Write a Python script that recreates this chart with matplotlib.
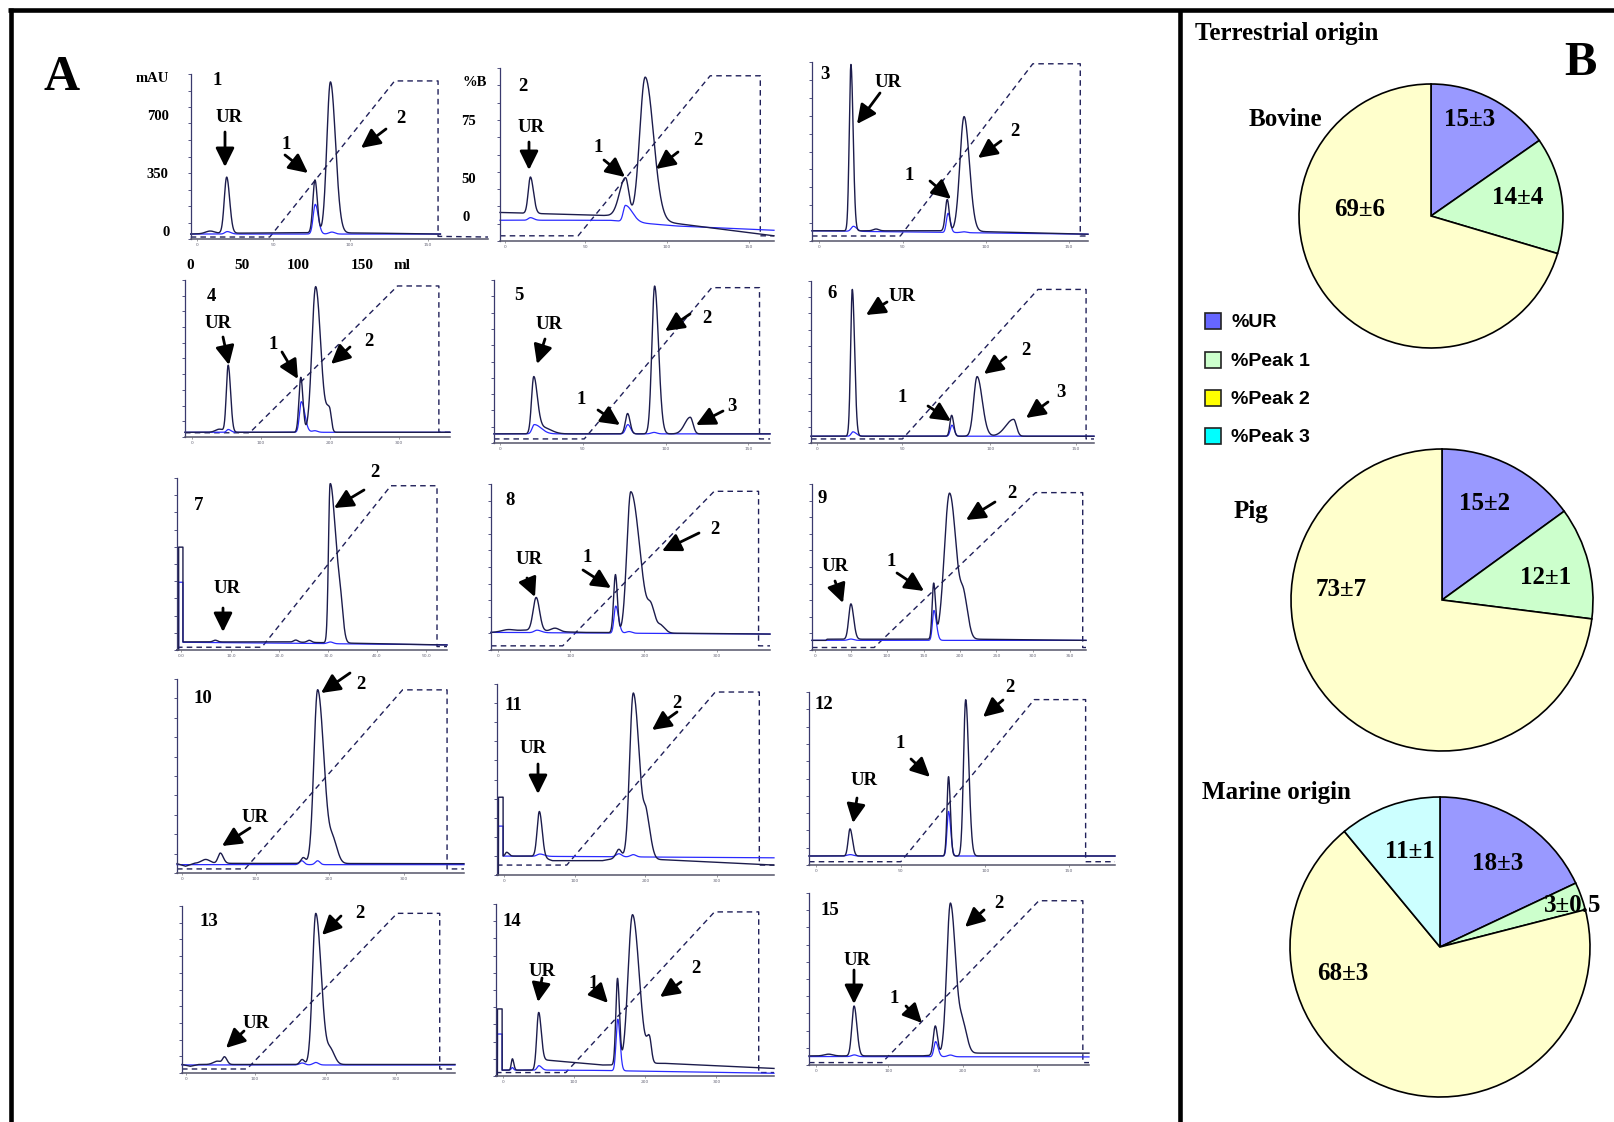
import numpy as np
import matplotlib.pyplot as plt
from matplotlib.patches import Rectangle

W, H = 1614, 1122

# ---------------- data: chromatograms (x = % of run, y = % of full scale) ----------------
panel_ids = ['1', '2', '3', '4', '5', '6', '7', '8', '9', '10', '11', '12', '13', '14', '15']

# baseline of the 214 nm trace (dark), as (x, y) points
dark_base = [
    [(0, 3.0), (10, 3.5), (40, 3.8), (60, 3.6), (84, 3.0)],
    [(0, 16.5), (38.9, 14.7), (60, 11.0), (100, 3.0)],
    [(0, 5.7), (50, 5.7), (100, 3.8)],
    [(0, 3.0), (100, 3.0)],
    [(0, 5.6), (100, 5.6)],
    [(0, 4.2), (100, 4.2)],
    [(0, 0), (0.6, 0), (0.61, 59.8), (2.2, 59.8), (2.21, 4.7), (40, 4.7), (100, 2.9)],
    [(0, 10.6), (12, 12.0), (25, 11.0), (33, 10.6), (100, 9.6)],
    [(0, 5.8), (5, 5.8), (5.5, 6.5), (60, 6.5), (100, 5.8)],
    [(0, 4.8), (3, 3.5), (6, 5.0), (100, 4.8)],
    [(0, 0), (0.5, 0), (0.51, 40.7), (2.2, 40.7), (2.21, 9.9), (15, 9.9), (20, 7.5),
     (38, 7.5), (42, 8.5), (60, 8.0), (100, 5.2)],
    [(0, 5.2), (100, 5.2)],
    [(0, 5.1), (3, 4.0), (6, 5.1), (100, 5.1)],
    [(0, 0), (0.5, 0), (0.51, 39.0), (2.2, 39.0), (2.21, 3.4), (14.5, 3.4), (16.5, 9.5),
     (20, 9.0), (38, 6.4), (42, 6.4), (60, 7.4), (100, 4.4)],
    [(0, 5.3), (40, 5.3), (60, 6.9), (100, 6.9)],
]

# peaks of the dark trace: (centre, height, left width, right width)
dark_peaks = [
    [(6.5, 1.5, 1.5, 1.5), (12.1, 34, 0.8, 1.0), (41.8, 32, 0.7, 0.8), (47.0, 91.5, 1.2, 1.7)],
    [(11.1, 21, 0.8, 1.1), (45.8, 23, 2.2, 1.2), (53.0, 82.5, 2.0, 3.0)],
    [(14.1, 93, 0.6, 0.8), (23.2, 1.0, 1, 1), (49.0, 17.5, 0.7, 0.7), (55.1, 64, 1.5, 1.9)],
    [(13, 2, 1.5, 1.5), (16.3, 42.6, 0.7, 0.9), (43.7, 35, 0.7, 0.8), (49.3, 92.8, 1.4, 1.9),
     (54.5, 14, 1.2, 0.7)],
    [(14.4, 34.7, 0.8, 1.3), (17.5, 4, 1.5, 3.0), (48.4, 12.5, 0.8, 0.9), (58.2, 90.7, 1.0, 1.4),
     (71.1, 10.2, 2.0, 1.0)],
    [(14.6, 90.6, 0.6, 0.8), (49.7, 12.9, 0.6, 0.7), (58.7, 36.8, 1.2, 1.8), (71.6, 10.4, 2.8, 1.0)],
    [(14.2, 1.0, 0.8, 0.8), (44, 1.2, 0.8, 0.8), (49, 1.2, 0.8, 0.8), (56.7, 90.5, 0.6, 1.8),
     (60.3, 24, 1.6, 1.1)],
    [(6, 1, 2, 2), (16.2, 20, 1.1, 1.2), (23, 2, 1.5, 1.5), (44.6, 35, 0.65, 0.7),
     (50.1, 85, 1.4, 3.2), (57.5, 12, 1.2, 1.5), (61, 4, 1, 1.5)],
    [(14.2, 21.3, 0.8, 1.0), (44.4, 33, 0.55, 0.65), (50.2, 88, 1.9, 2.5), (55.5, 20, 1.2, 1.5)],
    [(10, 2, 1.5, 1.5), (15.1, 5.3, 0.8, 1.0), (44, 3, 0.8, 0.8), (49.0, 89.6, 1.3, 2.2),
     (54.5, 10, 1.2, 1.5)],
    [(3.5, 2, 0.5, 0.8), (15.3, 23.5, 0.8, 1.0), (44, 5, 1.0, 1.0), (49.2, 87, 1.3, 2.2),
     (54, 18, 1.0, 1.5)],
    [(13.4, 15.7, 0.6, 0.8), (45.6, 45.9, 0.5, 0.6), (51.2, 90.4, 0.7, 1.0)],
    [(13, 2, 1.5, 1.5), (15.6, 4.2, 0.7, 0.9), (44, 3, 0.8, 0.8), (49.0, 90.5, 1.2, 2.0),
     (54.5, 8, 1.2, 1.5)],
    [(5.9, 6.6, 0.4, 0.5), (15.3, 31, 0.7, 0.9), (43.7, 50, 0.6, 0.7), (49.1, 87, 1.6, 2.4),
     (55.2, 13, 0.9, 0.7)],
    [(7, 1, 1.5, 1.5), (16.1, 29, 0.8, 1.0), (45.1, 17, 0.7, 0.8), (50.5, 88, 1.3, 1.9),
     (55, 15, 1.2, 1.5)],
]

# baseline of the 280 nm trace (blue)
blue_base = [
    [(0, 3.0), (84, 3.0)],
    [(0, 12.0), (40, 12.0), (64, 8.7), (100, 6.2)],
    [(0, 5.7), (100, 3.8)],
    [(0, 3.0), (100, 3.0)],
    [(0, 5.6), (100, 5.6)],
    [(0, 4.2), (100, 4.2)],
    [(0, 0), (0.6, 0), (0.61, 39.4), (2.2, 39.4), (2.21, 4.5), (100, 3.0)],
    [(0, 10.6), (100, 9.6)],
    [(0, 5.8), (100, 5.8)],
    [(0, 4.3), (100, 4.3)],
    [(0, 0), (0.5, 0), (0.51, 25.6), (2.2, 25.6), (2.21, 9.9), (100, 9.0)],
    [(0, 5.2), (100, 5.2)],
    [(0, 4.8), (100, 4.8)],
    [(0, 0), (0.5, 0), (0.51, 24.4), (2.2, 24.4), (2.21, 3.4), (30, 3.4), (100, 1.6)],
    [(0, 4.9), (100, 4.7)],
]

blue_peaks = [
    [(12.3, 1.5, 0.8, 1.2), (41.9, 18, 0.7, 1.0), (47.5, 1.2, 1, 1)],
    [(11.1, 1.5, 0.8, 1.2), (45.8, 9.4, 0.8, 2.5)],
    [(15, 2.8, 0.8, 1.2), (49.3, 10.7, 0.6, 0.8), (55, 0.5, 1, 1)],
    [(16.3, 1.8, 0.6, 1.0), (43.9, 19.5, 0.7, 1.3), (49, 1.0, 1, 1)],
    [(14.6, 5.7, 0.8, 2.5), (48.5, 5.7, 0.8, 1.0), (58, 0.9, 1, 1)],
    [(14.8, 2.7, 0.6, 1.2), (49.8, 6.8, 0.6, 0.8)],
    [(56.8, 1.0, 1, 1)],
    [(16.5, 1.5, 1, 1.5), (44.7, 16.3, 0.6, 1.0), (49.5, 1, 1, 1)],
    [(14.2, 0.8, 1, 1), (44.5, 18, 0.55, 0.9)],
    [(43.5, 2, 0.8, 0.8), (49, 2, 0.8, 0.8)],
    [(15.5, 1.2, 1, 1.5), (44, 1.6, 1, 1), (49.2, 1.2, 1, 1)],
    [(13.5, 0.8, 1, 1), (45.6, 25.8, 0.5, 0.7)],
    [(44, 1.2, 1, 1), (49, 1.5, 1, 1)],
    [(5.9, 1.5, 0.4, 0.4), (15.4, 2.6, 0.6, 1.0), (43.8, 30, 0.6, 0.8)],
    [(16.2, 1, 1, 1), (45.2, 8.8, 0.6, 0.9), (50.5, 1, 1, 1)],
]

# %B gradient programme (dashed)
gradient = [
    [(0, 1.2), (26.6, 1.2), (68.6, 95.8), (83.2, 95.8), (83.2, 1.6), (100, 1.2)],
    [(0, 3), (28.5, 3), (76.7, 95.5), (95, 95.5), (95, 3), (100, 3)],
    [(0, 2.8), (32, 2.8), (80, 99), (97.2, 99), (97.2, 2.8), (100, 2.8)],
    [(0, 2.7), (24.4, 2.7), (80.2, 96.2), (95.8, 96.2), (95.8, 3), (100, 3)],
    [(0, 2.5), (32.7, 2.5), (78.9, 95.3), (96.2, 95.3), (96.2, 2.5), (100, 2.5)],
    [(0, 2.5), (32.3, 2.5), (80.2, 94.8), (97.2, 94.8), (97.2, 2.5), (100, 2.5)],
    [(0, 1.6), (31.4, 1.6), (79.2, 95.5), (96.3, 95.5), (96.3, 2), (100, 2)],
    [(0, 2.5), (25.7, 2.5), (80, 95.6), (95.9, 95.6), (95.9, 2.5), (100, 2.5)],
    [(0, 1.5), (22.7, 1.5), (81.6, 94.8), (98.8, 94.8), (98.8, 1.5), (100, 1.5)],
    [(0, 2.1), (23.7, 2.1), (78.6, 94.4), (94.1, 94.4), (94.1, 2.1), (100, 2.1)],
    [(0, 5.2), (25.2, 5.2), (78.8, 95.8), (94.7, 95.8), (94.7, 5.2), (100, 5.2)],
    [(0, 1.9), (30, 1.9), (73.6, 95.6), (90.4, 95.6), (90.4, 1.9), (100, 1.9)],
    [(0, 2.4), (23.8, 2.4), (78.8, 95.6), (94.4, 95.6), (94.4, 2.4), (100, 2.4)],
    [(0, 2), (25.1, 2), (78.6, 95.4), (94.5, 95.4), (94.5, 2), (100, 2)],
    [(0, 1.4), (26.1, 1.4), (82.1, 95.5), (97.8, 95.5), (97.8, 1.4), (100, 1.4)],
]

x_ticks = [
    [2, 27.8, 53.5, 79.8], [1.8, 31.2, 60.8, 90.8], [2.6, 32.8, 62.9, 93.1],
    [2.8, 28.6, 54.7, 80.7], [2.2, 32.2, 62.2, 92.2], [2.2, 32.3, 63.4, 93.5],
    [1.5, 20, 37.9, 56, 74.1, 92.4], [2.5, 28.4, 55, 81.1],
    [1.2, 14.2, 27.3, 40.7, 54, 67.3, 80.6, 94], [1.8, 27.5, 53, 79],
    [2.6, 28, 53.6, 79.4], [2.4, 30, 57.6, 85], [1.6, 26.7, 52.8, 78.4],
    [2.6, 28, 53.5, 79.3], [2.6, 28.3, 54.9, 81.5],
]
ml_labels = ['0', '50', '100', '150']
run_labels = ['0', '100', '200', '300']
x_tick_labels = [ml_labels, ml_labels, ml_labels, run_labels, ml_labels, ml_labels,
                 ['0.0', '10.0', '20.0', '30.0', '40.0', '50.0'], run_labels,
                 ['0', '50', '100', '150', '200', '250', '300', '350'], run_labels,
                 run_labels, ml_labels, run_labels, run_labels, run_labels]

# ---------------- data: pie charts (%) ----------------
pie_names = ['Bovine', 'Pig', 'Marine']
bovine_vals = [15, 14, 69]
pig_vals = [15, 12, 73]
marine_vals = [18, 3, 68, 11]
bovine_txt = ['15±3', '14±4', '69±6']
pig_txt = ['15±2', '12±1', '73±7']
marine_txt = ['18±3', '3±0.5', '68±3', '11±1']
legend_names = ['%UR', '%Peak 1', '%Peak 2', '%Peak 3']

# ---------------- layout (pixels, y down) ----------------
panel_box = [
    (190.7, 488, 74, 239), (500, 774, 68, 241), (812, 1088, 62, 241),
    (185, 450, 280, 437), (494, 770, 280, 443), (811, 1094, 281, 443),
    (177, 447, 478, 650), (491, 770, 484, 650), (812, 1086, 484, 650),
    (177, 464, 679, 873), (497, 774, 684, 875), (809, 1115, 692, 865),
    (182, 455, 906, 1073), (496, 774, 904, 1076), (809, 1089, 893, 1065),
]
num_pos = [(217, 80), (523, 86), (825, 74), (211, 296), (519, 295), (832, 293),
           (199, 505), (510, 500), (822, 498), (203, 698), (513, 705), (824, 704),
           (209, 921), (512, 921), (830, 910)]
# peak labels: (text, x, y, tail x, tail y, tip x, tip y)
peak_marks = [
    ('UR', 229, 117, 225, 132, 225, 167), ('1', 286, 144, 285, 155, 308, 173),
    ('2', 401, 118, 386, 129, 361, 148),
    ('UR', 531, 127, 529, 142, 529, 170), ('1', 598, 147, 604, 160, 625, 177),
    ('2', 698, 140, 678, 152, 656, 169),
    ('UR', 888, 82, 880, 93, 857, 124), ('1', 909, 175, 930, 181, 951, 199),
    ('2', 1015, 131, 1001, 141, 978, 158),
    ('UR', 218, 323, 223, 337, 229, 365), ('1', 273, 344, 282, 352, 298, 379),
    ('2', 369, 341, 350, 347, 331, 364),
    ('UR', 549, 324, 545, 339, 537, 364), ('1', 581, 399, 598, 410, 620, 425),
    ('2', 707, 318, 690, 314, 665, 331), ('3', 732, 406, 723, 411, 696, 425),
    ('UR', 902, 296, 887, 302, 866, 315), ('1', 902, 397, 928, 406, 951, 421),
    ('2', 1026, 350, 1006, 357, 984, 374), ('3', 1061, 392, 1048, 402, 1026, 418),
    ('UR', 227, 588, 223, 608, 223, 632), ('2', 375, 472, 364, 490, 334, 508),
    ('UR', 529, 559, 527, 578, 535, 597), ('1', 587, 557, 583, 570, 611, 588),
    ('2', 715, 529, 699, 533, 662, 551),
    ('UR', 835, 566, 835, 581, 843, 603), ('1', 891, 561, 897, 573, 924, 591),
    ('2', 1012, 493, 995, 502, 966, 520),
    ('UR', 255, 817, 250, 828, 222, 846), ('2', 361, 684, 350, 673, 321, 693),
    ('UR', 533, 748, 538, 764, 538, 794), ('2', 677, 703, 677, 712, 652, 730),
    ('UR', 864, 780, 857, 798, 853, 823), ('1', 900, 743, 911, 759, 930, 777),
    ('2', 1010, 687, 1003, 700, 983, 717),
    ('UR', 256, 1024, 244, 1031, 226, 1048), ('2', 360, 913, 341, 916, 322, 935),
    ('UR', 542, 971, 542, 978, 538, 1002), ('1', 593, 983, 594, 988, 608, 1003),
    ('2', 696, 968, 681, 982, 660, 997),
    ('UR', 857, 960, 854, 970, 854, 1004), ('1', 894, 998, 906, 1006, 922, 1023),
    ('2', 999, 903, 984, 910, 965, 927),
]

DARK = '#1c1c4c'
BLUE = '#2a2aff'
NAVY = '#20205a'
SERIF = ['Liberation Serif', 'DejaVu Serif']
SANS = ['Liberation Sans', 'DejaVu Sans']


def trace(base, peaks):
    bx = np.array([p[0] for p in base], float)
    by = np.array([p[1] for p in base], float)
    x = np.union1d(np.linspace(bx[0], bx[-1], 1500), bx)
    y = np.interp(x, bx, by)
    for c, h, sl, sr in peaks:
        s = np.where(x < c, sl, sr)
        y = y + h * np.exp(-0.5 * ((x - c) / s) ** 2)
    return x, y


fig = plt.figure(figsize=(W / 100, H / 100), dpi=100)
fig.patch.set_facecolor('white')

for i in range(15):
    l, r, t, b = panel_box[i]
    ax = fig.add_axes([l / W, 1 - b / H, (r - l) / W, (b - t) / H])
    ax.set_xlim(0, 100)
    ax.set_ylim(0, 100)
    ax.patch.set_visible(False)
    ax.spines['top'].set_visible(False)
    ax.spines['right'].set_visible(False)
    ax.spines['left'].set_color('#3a3a6e')
    ax.spines['left'].set_linewidth(0.9)
    ax.spines['bottom'].set_color('#55556a')
    ax.spines['bottom'].set_linewidth(1.1)
    ax.set_yticks(np.linspace(0, 100, 11))
    ax.set_yticklabels([])
    ax.set_xticks(x_ticks[i])
    ax.set_xticklabels(x_tick_labels[i])
    ax.tick_params(axis='y', length=2.2, width=0.6, color='#3a3a6e')
    ax.tick_params(axis='x', length=1.5, width=0.5, color='#777777', labelsize=3.2,
                   labelcolor='#666677', pad=1.5)

    gx = [p[0] for p in gradient[i]]
    gy = [p[1] for p in gradient[i]]
    ax.plot(gx, gy, color=NAVY, lw=1.0, dashes=(4, 3), clip_on=False)
    x, y = trace(blue_base[i], blue_peaks[i])
    ax.plot(x, y, color=BLUE, lw=0.9, clip_on=False)
    x, y = trace(dark_base[i], dark_peaks[i])
    ax.plot(x, y, color=DARK, lw=1.0, clip_on=False)

# overlay in pixel coordinates for frame, labels and arrows
ov = fig.add_axes([0, 0, 1, 1], zorder=10)
ov.set_xlim(0, W)
ov.set_ylim(H, 0)
ov.axis('off')
ov.patch.set_visible(False)

ov.plot([8, W], [10, 10], color='k', lw=3.3, solid_capstyle='butt')
ov.plot([10.5, 10.5], [8, H], color='k', lw=3.3, solid_capstyle='butt')
ov.plot([1180, 1180], [10, H], color='k', lw=3.3, solid_capstyle='butt')

ov.text(62, 78, 'A', family=SERIF, weight='bold', fontsize=36, ha='center', va='center')
ov.text(1580, 63, 'B', family=SERIF, weight='bold', fontsize=35, ha='center', va='center')

# y-axis labels of panel 1 and %B scale
for s, x, y in [('mAU', 152, 78), ('700', 158, 116), ('350', 157, 174), ('0', 166, 232)]:
    ov.text(x, y, s, family=SERIF, weight='bold', fontsize=10.5, ha='center', va='center')
for s, x, y in [('%B', 475, 82), ('75', 469, 121), ('50', 469, 179), ('0', 466, 217)]:
    ov.text(x, y, s, family=SERIF, weight='bold', fontsize=10.5, ha='center', va='center')
for s, x in zip(ml_labels + ['ml'], [190, 242, 298, 362, 402]):
    ov.text(x, 265, s, family=SERIF, weight='bold', fontsize=11, ha='center', va='center')

for s, (x, y) in zip(panel_ids, num_pos):
    ov.text(x, y, s, family=SERIF, weight='bold', fontsize=13.5, ha='center', va='center')

for s, tx, ty, x0, y0, x1, y1 in peak_marks:
    ov.text(tx, ty, s, family=SERIF, weight='bold', fontsize=13.5, ha='center', va='center')
    ov.annotate('', xy=(x1, y1), xytext=(x0, y0),
                arrowprops=dict(arrowstyle='-|>,head_length=0.85,head_width=0.42',
                                mutation_scale=13.5, lw=2.0, color='k',
                                shrinkA=0, shrinkB=0))

# ---------------- panel B: pies ----------------
pie_colors = ['#9999ff', '#ccffcc', '#ffffcc', '#ccffff']
legend_colors = ['#6666ff', '#ccffcc', '#ffff00', '#00ffff']

pies = [
    (bovine_vals, bovine_txt, (1431, 216), 132,
     [(1470, 119), (1518, 197), (1360, 210)]),
    (pig_vals, pig_txt, (1442, 600), 151,
     [(1485, 504), (1546, 578), (1341, 590)]),
    (marine_vals, marine_txt, (1440, 947), 150,
     [(1498, 863), (1573, 905), (1343, 973), (1410, 851)]),
]
for vals, txts, (cx, cy), rad, tpos in pies:
    pax = fig.add_axes([(cx - rad) / W, 1 - (cy + rad) / H, 2 * rad / W, 2 * rad / H])
    pax.pie(vals, colors=pie_colors[:len(vals)], startangle=90, counterclock=False,
            wedgeprops=dict(edgecolor='k', linewidth=1.2))
    pax.set_xlim(-1, 1)
    pax.set_ylim(-1, 1)
    pax.set_aspect('auto')
    for s, (px, py) in zip(txts, tpos):
        pax.text((px - cx) / rad, (cy - py) / rad, s, family=SERIF, weight='bold',
                 fontsize=18, ha='center', va='center', clip_on=False)

ov.text(1195, 33, 'Terrestrial origin', family=SERIF, weight='bold', fontsize=18,
        ha='left', va='center')
ov.text(1285, 119, pie_names[0], family=SERIF, weight='bold', fontsize=18,
        ha='center', va='center')
ov.text(1251, 511, pie_names[1], family=SERIF, weight='bold', fontsize=18,
        ha='center', va='center')
ov.text(1202, 792, 'Marine origin', family=SERIF, weight='bold', fontsize=18,
        ha='left', va='center')

for name, col, y in zip(legend_names, legend_colors, [321, 360, 398, 436]):
    ov.add_patch(Rectangle((1205, y - 8), 16, 16, facecolor=col, edgecolor='#222222', lw=1.2))
    ov.text(1231, y + 1, name, family=SANS, weight='bold', fontsize=14, ha='left', va='center')

fig.savefig('out.png', dpi=100)
